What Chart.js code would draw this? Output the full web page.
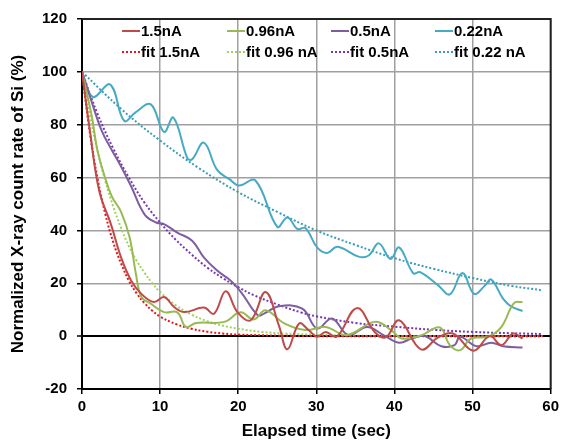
<!DOCTYPE html>
<html>
<head>
<meta charset="utf-8">
<script src="https://cdn.jsdelivr.net/npm/chart.js@4/dist/chart.umd.min.js"></script>
<style>
html,body{margin:0;padding:0;background:#fff;}
#wrap{width:563px;height:442px;position:relative;}
</style>
</head>
<body>
<div id="wrap"><canvas id="c"></canvas></div>
<script>
// ---- data ----
const xTicks = [0, 10, 20, 30, 40, 50, 60];
const yTicks = [-20, 0, 20, 40, 60, 80, 100, 120];

const t15 = [0, 1, 2.2, 3.7, 5.0, 6.3, 7.6, 9.2, 10.5, 11.8, 13.1, 15.6, 16.9, 18.4, 19.9, 21.6, 23.5, 25.2, 26.3, 27.8, 29.0, 30.1, 31.2, 32.6, 35.2, 37.5, 38.9, 40.6, 43.4, 45.6, 47.5, 50.1, 52.2, 53.7, 55.2, 56.4];
const v15 = [100, 78, 55, 42.4, 29.8, 21, 16, 12.9, 14.8, 11, 9.1, 10.8, 8.5, 17, 9.1, 6, 16.7, 4.1, -5, 4.8, 2.3, -0.2, 1.6, -0.2, 10.6, 1.5, -0.5, 6, -5, -0.5, 1, -5.5, 0, -3.4, 1, -0.9];

const t096 = [0, 1.2, 2.0, 2.9, 3.8, 5.0, 6.1, 6.9, 7.6, 8.8, 10.5, 12.2, 13.3, 14.6, 18.2, 20.3, 22.0, 23.5, 25.9, 28.6, 31.2, 33.9, 37.5, 39.7, 40.9, 43.5, 45.8, 47.1, 48.4, 49.8, 52.0, 53.7, 55.3, 56.4];
const v096 = [100, 84, 70, 60.5, 53, 47, 37.3, 23.6, 14.8, 12.3, 9.1, 9.0, 3.5, 5, 5.4, 9, 6.3, 9.8, 4.8, 2.3, 3.5, 0.4, 5.4, 2, -0.9, 0.4, 3.3, -3.4, -5.3, -0.9, -0.2, 3.5, 12.5, 12.9];

const t05 = [0, 1.2, 2.5, 3.7, 5.0, 6.3, 8.0, 9.5, 10.5, 12.2, 14.1, 15.6, 17.3, 19.0, 20.4, 22.5, 23.3, 25.2, 28.2, 30.1, 32.0, 34.1, 36.5, 38.6, 40.6, 42.2, 43.9, 46.0, 47.7, 48.4, 50.5, 52.4, 53.9, 56.4];
const v05 = [100, 89, 77.9, 71, 64.2, 56.6, 46.1, 43, 42.4, 39.2, 36.1, 29.8, 24.8, 21.1, 16.5, 7.9, 8.5, 11.3, 10.4, 2.9, 6.7, 0.4, 3.5, 0.4, -2.5, -0.9, 0, -3.8, -3.4, -0.2, -3.8, -2.5, -3.8, -4.3];

const t022 = [0, 1.4, 3.6, 5.4, 6.9, 8.8, 10.5, 11.7, 13.5, 14.1, 15.6, 17.3, 18.9, 20.1, 22.2, 25.0, 26.3, 27.6, 28.6, 30.1, 31.4, 32.7, 35.4, 36.7, 38.0, 39.5, 40.6, 42.4, 43.3, 45.6, 47.1, 48.7, 50.2, 51.6, 52.4, 53.9, 54.9, 56.4];
const v022 = [100, 90.5, 95.2, 81.5, 84.8, 87.7, 77.3, 82.7, 67.3, 66.9, 73.2, 62.9, 59.3, 57, 58.9, 41.4, 44.9, 40.5, 40.9, 33.6, 31.5, 33.8, 30.1, 30.5, 35.1, 29.2, 33.6, 23.8, 24.2, 19.2, 15.8, 23.9, 16, 19.2, 21.4, 14.2, 11.3, 9.5];

const tFit15 = [0, 1, 2, 3, 4, 5, 6, 7, 8, 9, 10, 12, 14, 16, 18, 20, 25, 30, 40, 50, 59];
const vFit15 = [100, 77, 59.5, 46, 35.5, 27.5, 21, 16.2, 12.5, 9.6, 7.4, 4.6, 2.8, 1.7, 1.0, 0.6, 0.2, 0, 0, 0, 0];

const tFit096 = [0, 1, 2, 3, 4, 5, 6, 7, 8, 9, 10, 12, 14, 16, 18, 20, 23, 26, 30, 35, 40, 50, 59];
const vFit096 = [100, 83.6, 70, 58.5, 49, 41, 34, 28.5, 24, 20, 16.7, 11.7, 8.2, 5.7, 4, 2.8, 1.6, 1, 0.5, 0.2, 0.1, 0, 0];

const tFit05 = [0, 2, 4, 6, 8, 10, 12, 14, 16, 18, 20, 22, 25, 28, 30, 35, 40, 45, 50, 55, 59];
const vFit05 = [100, 84, 71, 60, 50.5, 43, 36.5, 31, 26, 22, 18.5, 15.5, 12, 9, 7.5, 5, 3.6, 2.4, 1.6, 1.1, 0.8];

const tFit022 = [0, 5, 10, 15, 20, 25, 30, 35, 40, 45, 50, 55, 59];
const vFit022 = [100, 86, 74, 63.5, 54.5, 47, 40, 34.5, 29.5, 25.5, 22, 19, 17.3];

const seriesNames = ['1.5nA', '0.96nA', '0.5nA', '0.22nA', 'fit 1.5nA', 'fit 0.96 nA', 'fit 0.5nA', 'fit 0.22 nA'];

// ---- styling ----
const colors = ['#BE4B48', '#98B954', '#7D5FA0', '#46AAC5', '#E8141A', '#9ED45A', '#7A35B5', '#3C9DB8'];
const FONT = "'Liberation Sans', Arial, sans-serif";

function pts(t, v) { return t.map((x, i) => ({x: x, y: v[i]})); }

const pairs = [[t15, v15], [t096, v096], [t05, v05], [t022, v022],
               [tFit15, vFit15], [tFit096, vFit096], [tFit05, vFit05], [tFit022, vFit022]];

const datasets = pairs.map((p, i) => {
  const fit = i >= 4;
  return {
    label: seriesNames[i],
    data: pts(p[0], p[1]),
    borderColor: colors[i],
    backgroundColor: colors[i],
    borderWidth: fit ? 2 : 2,
    borderDash: fit ? [2, 2] : [],
    pointRadius: 0,
    tension: fit ? 0.4 : 0.4,
    fill: false,
    order: fit ? 1 : 0
  };
});

const legendPlugin = {
  id: 'innerLegend',
  afterDraw(chart) {
    const ctx = chart.ctx;
    const cols = [122, 227, 331, 435];
    const rows = [31, 52];
    ctx.save();
    ctx.font = 'bold 15px ' + FONT;
    ctx.textBaseline = 'middle';
    ctx.fillStyle = '#000';
    for (let i = 0; i < 8; i++) {
      const c = i % 4, r = Math.floor(i / 4);
      const x = cols[c], y = rows[r];
      ctx.beginPath();
      ctx.strokeStyle = colors[i];
      ctx.lineWidth = 2;
      ctx.setLineDash(r === 1 ? [2, 2] : []);
      ctx.moveTo(x, y);
      ctx.lineTo(x + 18, y);
      ctx.stroke();
      ctx.setLineDash([]);
      ctx.fillStyle = '#000';
      ctx.fillText(seriesNames[i], x + 19, y + 1);
    }
    ctx.restore();
  }
};

const framePlugin = {
  id: 'frame',
  afterDraw(chart) {
    const a = chart.chartArea, ctx = chart.ctx;
    ctx.save();
    ctx.strokeStyle = '#222';
    ctx.lineWidth = 2;
    ctx.beginPath();
    ctx.moveTo(a.left, a.top);
    ctx.lineTo(a.right, a.top);
    ctx.lineTo(a.right, a.bottom);
    ctx.stroke();
    ctx.restore();
  }
};

new Chart(document.getElementById('c'), {
  type: 'line',
  data: { datasets: datasets },
  plugins: [legendPlugin, framePlugin],
  options: {
    responsive: true,
    maintainAspectRatio: false,
    animation: false,
    layout: { padding: { left: 0, right: 10, top: 16, bottom: 0 } },
    plugins: { legend: { display: false }, tooltip: { enabled: false } },
    scales: {
      x: {
        type: 'linear',
        min: 0, max: 60,
        afterBuildTicks(s) { s.ticks = xTicks.map(v => ({value: v})); },
        afterFit(s) { s.height = 53; },
        ticks: { color: '#000', font: { family: FONT, size: 15, weight: 'bold' }, padding: 4, maxRotation: 0 },
        grid: { color: '#a0a0a0', lineWidth: 1.5, tickLength: 5, tickColor: '#000', tickWidth: 1.5 },
        border: { color: '#000', width: 2 },
        title: { display: true, text: 'Elapsed time (sec)', color: '#000',
                 font: { family: FONT, size: 17, weight: 'bold' }, padding: { top: 0, bottom: 0 } }
      },
      y: {
        min: -20, max: 120,
        afterBuildTicks(s) { s.ticks = yTicks.map(v => ({value: v})); },
        afterFit(s) { s.width = 82; },
        ticks: { color: '#000', font: { family: FONT, size: 15, weight: 'bold' }, padding: 10 },
        grid: {
          color: c => (c.tick && c.tick.value === 0) ? '#000' : '#a0a0a0',
          lineWidth: c => (c.tick && c.tick.value === 0) ? 2 : 1.5,
          tickLength: 5, tickColor: '#000', tickWidth: 1.5
        },
        border: { color: '#000', width: 2 },
        title: { display: true, text: 'Normalized X-ray count rate of Si (%)', color: '#000',
                 font: { family: FONT, size: 17, weight: 'bold' }, padding: { top: 8, bottom: 0 } }
      }
    }
  }
});
</script>
</body>
</html>
